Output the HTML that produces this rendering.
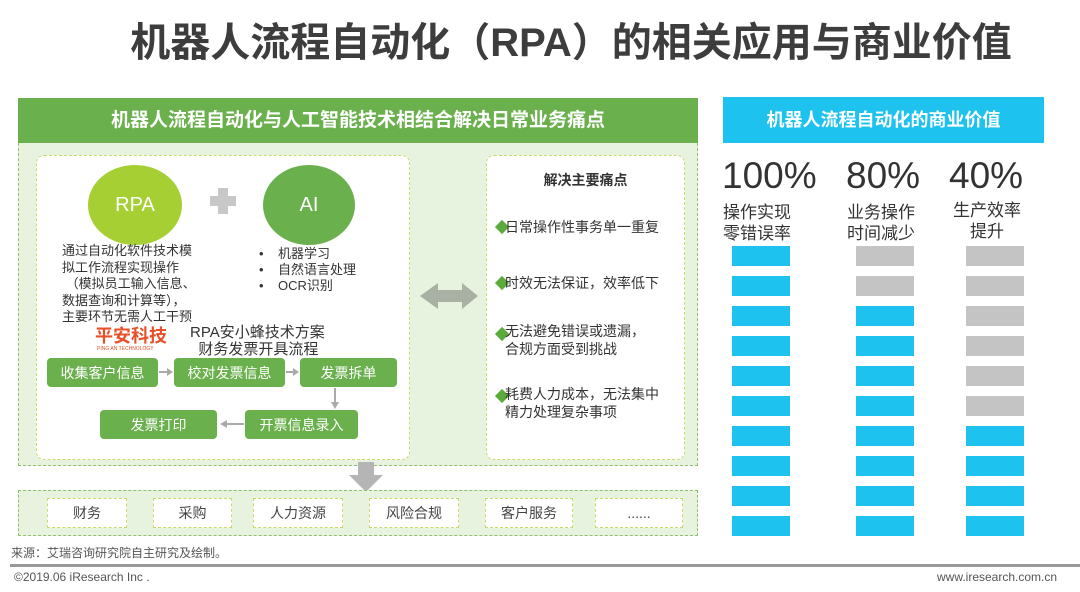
<!DOCTYPE html>
<html><head><meta charset="utf-8"><style>
*{margin:0;padding:0;box-sizing:border-box}
body{width:1080px;height:592px;background:#fff;position:relative;overflow:hidden;font-family:"Liberation Sans","Noto Sans CJK SC",sans-serif;color:#404040}
.a{position:absolute;white-space:nowrap}
.pb{position:absolute;background:#6ab04c;color:#fff;border-radius:4px;font-size:14px;display:flex;align-items:center;justify-content:center}
.bar{position:absolute;width:58px;height:20px}
.bl{background:#1ec2ee}.gr{background:#c4c4c4}
.tag{position:absolute;top:498px;height:30px;background:#fff;border:1px dashed #c7dc68;font-size:14px;display:flex;align-items:center;justify-content:center;color:#444}
.dm{position:absolute;width:10px;height:10px;background:#5aaa3c;transform:rotate(45deg)}
</style></head><body>
<div class="a" style="left:0;width:1080px;top:10px;text-align:center;font-size:40px;font-weight:bold;color:#3d3d3d;padding-left:62px">机器人流程自动化（RPA）的相关应用与商业价值</div>

<div class="a" style="left:18px;top:98px;width:680px;height:368px;background:#e7f3df;border:1px dashed #8fbf6c"></div>
<div class="a" style="left:18px;top:98px;width:680px;height:45px;background:#6ab04c;color:#fff;font-size:19px;font-weight:bold;text-align:center;line-height:45px">机器人流程自动化与人工智能技术相结合解决日常业务痛点</div>
<div class="a" style="left:36px;top:155px;width:374px;height:305px;background:#fff;border:1px dashed #c7dc68;border-radius:8px"></div>
<div class="a" style="left:486px;top:155px;width:199px;height:305px;background:#fff;border:1px dashed #c7dc68;border-radius:8px"></div>

<div class="a" style="left:88px;top:165px;width:94px;height:80px;border-radius:50%;background:#a5cf32;color:#fff;font-size:20px;text-align:center;line-height:80px">RPA</div>
<div class="a" style="left:263px;top:165px;width:92px;height:80px;border-radius:50%;background:#6ab04c;color:#fff;font-size:20px;text-align:center;line-height:80px">AI</div>
<div class="a" style="left:210px;top:196px;width:26px;height:10px;background:#c8c8c8"></div>
<div class="a" style="left:218px;top:188px;width:10px;height:26px;background:#c8c8c8"></div>

<div class="a" style="left:62px;top:243px;font-size:13px;line-height:16.5px;color:#333">通过自动化软件技术模<br>拟工作流程实现操作<br>&nbsp;（模拟员工输入信息、<br>数据查询和计算等），<br>主要环节无需人工干预</div>
<div class="a" style="left:259px;top:246px;font-size:13px;line-height:16px;color:#333">•&nbsp;&nbsp;&nbsp;&nbsp;机器学习<br>•&nbsp;&nbsp;&nbsp;&nbsp;自然语言处理<br>•&nbsp;&nbsp;&nbsp;&nbsp;OCR识别</div>

<div class="a" style="left:95px;top:322px;font-size:18px;font-weight:bold;color:#e8502a">平安科技</div>
<div class="a" style="left:97px;top:346px;font-size:5px;color:#e8502a">PING AN TECHNOLOGY</div>
<div class="a" style="left:190px;top:324px;font-size:15px;line-height:17px;color:#333">RPA安小蜂技术方案<br>&nbsp;&nbsp;财务发票开具流程</div>

<div class="pb" style="left:47px;top:358px;width:111px;height:29px">收集客户信息</div>
<div class="pb" style="left:174px;top:358px;width:111px;height:29px">校对发票信息</div>
<div class="pb" style="left:300px;top:358px;width:97px;height:29px">发票拆单</div>
<div class="pb" style="left:245px;top:410px;width:113px;height:29px">开票信息录入</div>
<div class="pb" style="left:100px;top:410px;width:117px;height:29px">发票打印</div>
<svg class="a" style="left:0;top:0" width="1080" height="592">
<g fill="#aaa" stroke="#aaa" stroke-width="2">
<line x1="159" y1="372" x2="168" y2="372"/><polygon points="167,368 173,372 167,376" stroke="none"/>
<line x1="286" y1="372" x2="294" y2="372"/><polygon points="293,368 299,372 293,376" stroke="none"/>
<line x1="335" y1="388" x2="335" y2="403"/><polygon points="331,402 335,409 339,402" stroke="none"/>
<line x1="226" y1="424" x2="244" y2="424"/><polygon points="227,420 220,424 227,428" stroke="none"/>
</g>
<polygon points="420,296 438,283 438,290 462,290 462,283 478,296 462,309 462,302 438,302 438,309" fill="#a9b1a4"/>
<polygon points="358,462 374,462 374,475 383,475 366,492 349,475 358,475" fill="#b5b5b5"/>
</svg>

<div class="a" style="left:486px;top:170px;width:199px;text-align:center;font-size:14px;font-weight:bold;color:#333">解决主要痛点</div>
<div class="dm" style="left:497px;top:222px"></div>
<div class="a" style="left:505px;top:217px;font-size:14px;color:#333">日常操作性事务单一重复</div>
<div class="dm" style="left:497px;top:278px"></div>
<div class="a" style="left:505px;top:273px;font-size:14px;color:#333">时效无法保证，效率低下</div>
<div class="dm" style="left:497px;top:329px"></div>
<div class="a" style="left:505px;top:322px;font-size:14px;line-height:18px;color:#333">无法避免错误或遗漏，<br>合规方面受到挑战</div>
<div class="dm" style="left:497px;top:391px"></div>
<div class="a" style="left:505px;top:385px;font-size:14px;line-height:18px;color:#333">耗费人力成本，无法集中<br>精力处理复杂事项</div>

<div class="a" style="left:18px;top:490px;width:680px;height:46px;background:#e7f3df;border:1px dashed #8fbf6c"></div>
<div class="tag" style="left:47px;width:80px">财务</div>
<div class="tag" style="left:153px;width:79px">采购</div>
<div class="tag" style="left:253px;width:90px">人力资源</div>
<div class="tag" style="left:369px;width:90px">风险合规</div>
<div class="tag" style="left:485px;width:88px">客户服务</div>
<div class="tag" style="left:595px;width:88px">......</div>

<div class="a" style="left:723px;top:97px;width:321px;height:46px;background:#1ec2ee;color:#fff;font-size:18px;font-weight:bold;text-align:center;line-height:46px">机器人流程自动化的商业价值</div>
<div class="a" style="left:722px;top:155px;font-size:37px;color:#333">100%</div>
<div class="a" style="left:846px;top:155px;font-size:37px;color:#333">80%</div>
<div class="a" style="left:949px;top:155px;font-size:37px;color:#333">40%</div>
<div class="a" style="left:723px;top:202px;font-size:17px;line-height:21px;color:#333">操作实现<br>零错误率</div>
<div class="a" style="left:847px;top:202px;font-size:17px;line-height:21px;color:#333">业务操作<br>时间减少</div>
<div class="a" style="left:953px;top:200px;font-size:17px;line-height:21px;color:#333;text-align:center">生产效率<br>提升</div>
<div class="bar bl" style="left:732px;top:246px"></div><div class="bar bl" style="left:732px;top:276px"></div><div class="bar bl" style="left:732px;top:306px"></div><div class="bar bl" style="left:732px;top:336px"></div><div class="bar bl" style="left:732px;top:366px"></div><div class="bar bl" style="left:732px;top:396px"></div><div class="bar bl" style="left:732px;top:426px"></div><div class="bar bl" style="left:732px;top:456px"></div><div class="bar bl" style="left:732px;top:486px"></div><div class="bar bl" style="left:732px;top:516px"></div>
<div class="bar gr" style="left:856px;top:246px"></div><div class="bar gr" style="left:856px;top:276px"></div><div class="bar bl" style="left:856px;top:306px"></div><div class="bar bl" style="left:856px;top:336px"></div><div class="bar bl" style="left:856px;top:366px"></div><div class="bar bl" style="left:856px;top:396px"></div><div class="bar bl" style="left:856px;top:426px"></div><div class="bar bl" style="left:856px;top:456px"></div><div class="bar bl" style="left:856px;top:486px"></div><div class="bar bl" style="left:856px;top:516px"></div>
<div class="bar gr" style="left:966px;top:246px"></div><div class="bar gr" style="left:966px;top:276px"></div><div class="bar gr" style="left:966px;top:306px"></div><div class="bar gr" style="left:966px;top:336px"></div><div class="bar gr" style="left:966px;top:366px"></div><div class="bar gr" style="left:966px;top:396px"></div><div class="bar bl" style="left:966px;top:426px"></div><div class="bar bl" style="left:966px;top:456px"></div><div class="bar bl" style="left:966px;top:486px"></div><div class="bar bl" style="left:966px;top:516px"></div>

<div class="a" style="left:11px;top:544px;font-size:12px;color:#555">来源：艾瑞咨询研究院自主研究及绘制。</div>
<div class="a" style="left:10px;top:564px;width:1070px;height:3px;background:#999"></div>
<div class="a" style="left:14px;top:570px;font-size:12px;color:#555">©2019.06 iResearch Inc .</div>
<div class="a" style="left:937px;top:570px;font-size:12px;color:#555">www.iresearch.com.cn</div>
</body></html>
